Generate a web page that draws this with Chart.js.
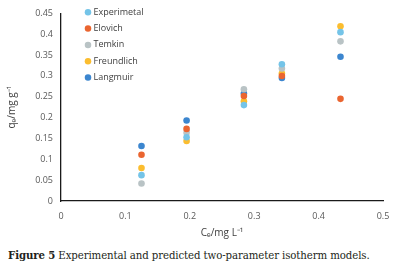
<!DOCTYPE html>
<html>
<head>
<meta charset="utf-8">
<script src="https://cdn.jsdelivr.net/npm/chart.js@4.4.1/dist/chart.umd.min.js"></script>
<style>
  html, body { margin: 0; padding: 0; background: #fff; }
  #wrap { position: absolute; left: 0; top: 0; width: 402px; height: 242px; }
  #caption {
    position: absolute; left: 8px; top: 249px; white-space: nowrap;
    font-family: "DejaVu Serif", serif; font-size: 10.2px; color: #231f20;
    letter-spacing: -0.1px;
  }
  #caption b { margin-right: 3px; }
</style>
</head>
<body>
<div id="wrap"><canvas id="isoChart" width="402" height="242"></canvas></div>
<div id="caption"><b>Figure 5</b>Experimental and predicted two-parameter isotherm models.</div>
<script>
// Ce values (mg/L) for the five measurements
const ce = [0.125, 0.195, 0.284, 0.343, 0.434];

// qe values (mg/g) per model
const experimetal = [0.062, 0.153, 0.230, 0.328, 0.405];
const elovich     = [0.111, 0.173, 0.252, 0.300, 0.245];
const temkin      = [0.042, 0.164, 0.268, 0.318, 0.383];
const freundlich  = [0.079, 0.144, 0.239, 0.306, 0.419];
const langmuir    = [0.132, 0.193, 0.258, 0.295, 0.346];

const seriesNames  = ['Experimetal', 'Elovich', 'Temkin', 'Freundlich', 'Langmuir'];
const seriesColors = ['#74c4e8', '#ea6530', '#b9c3c5', '#fbbd2f', '#3c86cf'];

const xTickLabels = ['0', '0.1', '0.2', '0.3', '0.4', '0.5'];
const yTickLabels = ['0', '0.05', '0.1', '0.15', '0.2', '0.25', '0.3', '0.35', '0.4', '0.45'];

function toPoints(vals){
  return vals.map((v, i) => ({x: ce[i], y: v}));
}

const allSeries = [experimetal, elovich, temkin, freundlich, langmuir];

const datasets = allSeries.map((vals, i) => ({
  label: seriesNames[i],
  data: toPoints(vals),
  backgroundColor: seriesColors[i],
  borderColor: seriesColors[i],
  borderWidth: 0,
  pointRadius: 3.3,
  pointHoverRadius: 3.3
}));

// nudge the legend inside the plot like the original
const legendShift = {
  id: 'legendShift',
  afterLayout(chart){
    if (chart.legend) {
      chart.legend.left += 18.7;
      chart.legend.top += 0.5;
    }
  }
};

const tickFont = {family: '"Open Sans", sans-serif', size: 9};
const tickColor = '#595959';

const config = {
  type: 'scatter',
  data: {datasets},
  options: {
    responsive: false,
    animation: false,
    events: [],
    layout: {padding: {top: 12, right: 19, left: 0, bottom: 0}},
    plugins: {
      tooltip: {enabled: false},
      legend: {
        position: 'chartArea',
        align: 'start',
        labels: {
          usePointStyle: true,
          pointStyle: 'circle',
          boxHeight: 4.6,
          boxWidth: 2,
          padding: 7.3,
          color: '#404040',
          font: {family: '"Open Sans", sans-serif', size: 9}
        }
      }
    },
    scales: {
      x: {
        type: 'linear',
        min: 0,
        max: 0.5,
        ticks: {
          stepSize: 0.1,
          padding: 10,
          color: tickColor,
          font: tickFont,
          callback: (v, i) => xTickLabels[i]
        },
        grid: {display: false, drawTicks: false},
        border: {display: true, color: '#1a1a1a', width: 1.3},
        title: {
          display: true,
          text: 'Cₑ/mg L⁻¹',
          color: '#404040',
          font: {family: '"Open Sans", sans-serif', size: 10},
          padding: {top: 0, bottom: 3}
        },
        afterFit: s => { s.height = 41; }
      },
      y: {
        type: 'linear',
        min: 0,
        max: 0.45,
        ticks: {
          stepSize: 0.05,
          padding: 8,
          color: tickColor,
          font: tickFont,
          callback: (v, i) => yTickLabels[i]
        },
        grid: {display: false, drawTicks: false},
        border: {display: true, color: '#1a1a1a', width: 1.3},
        title: {
          display: true,
          text: 'qₑ/mg g⁻¹',
          color: '#404040',
          font: {family: '"Open Sans", sans-serif', size: 10},
          padding: {top: 6, bottom: 0}
        },
        afterFit: s => { s.width = 61; }
      }
    }
  },
  plugins: [legendShift]
};

const isoChart = new Chart(document.getElementById('isoChart'), config);
</script>
</body>
</html>
